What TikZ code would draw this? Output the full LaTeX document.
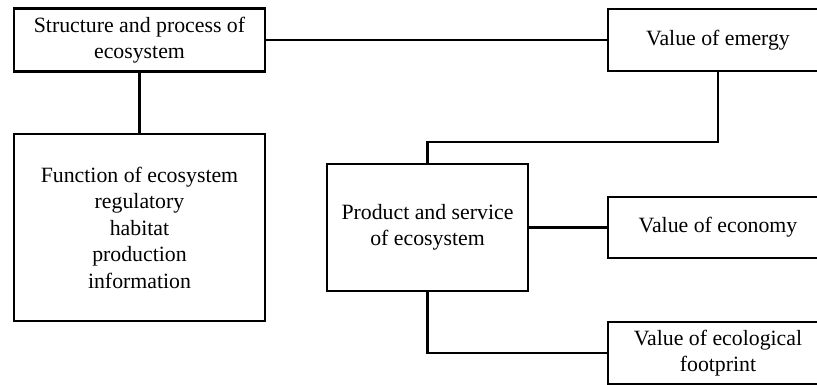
\documentclass[tikz,border=0pt]{standalone}
\usepackage{fontspec}
\setmainfont{Liberation Serif}
\begin{document}
\begin{tikzpicture}[x=1pt,y=-1pt,
  box/.style={draw=black, line width=2.2pt, fill=white, inner sep=0pt, align=center,
    font=\fontsize{21.8}{26.5}\selectfont},
  link/.style={draw=black, line width=2.2pt}]
\useasboundingbox (0,0) rectangle (817,385);
\clip (0,0) rectangle (817,385);
\node[box, minimum width=251pt, minimum height=63pt] (struct) at (139.5,40) {Structure and process of\\ecosystem};
\node[box, minimum width=251pt, minimum height=187pt] (func) at (139.5,227.5) {Function of ecosystem\\regulatory\\habitat\\production\\information};
\node[box, minimum width=220pt, minimum height=62pt] (emergy) at (718,40) {Value of emergy};
\node[box, minimum width=201pt, minimum height=127pt] (prod) at (427.5,227.5) {Product and service\\of ecosystem};
\node[box, minimum width=220pt, minimum height=61pt] (econ) at (718,227.5) {Value of economy};
\node[box, minimum width=220pt, minimum height=62pt] (foot) at (718,353) {Value of ecological\\footprint};
\coordinate (bend) at (718,142);
\draw[link] (struct.east) -- (emergy.west);
\draw[link] (struct.south) -- (func.north);
\draw[link] (emergy.south) -- (bend) -| (prod.north);
\draw[link] (prod.east) -- (econ.west);
\draw[link] (prod.south) |- (foot.west);
\end{tikzpicture}
\end{document}
